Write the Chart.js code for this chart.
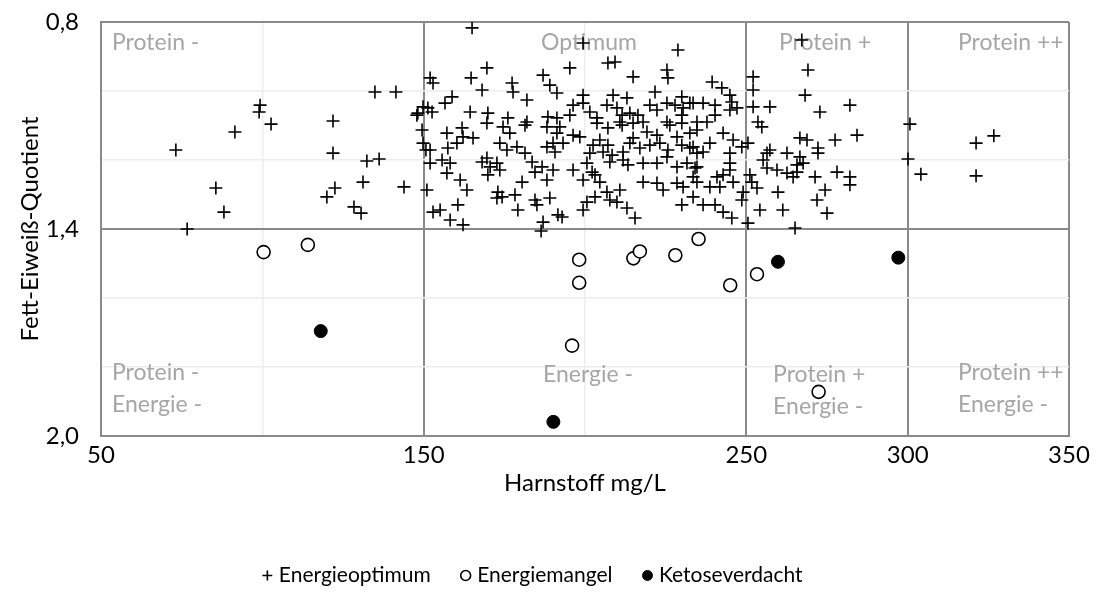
<!DOCTYPE html>
<html>
<head>
<meta charset="UTF-8">
<title>Harnstoff / Fett-Eiweiss-Quotient</title>
<style>
    html, body { margin: 0; padding: 0; background: #ffffff; }
</style>
<script src="https://cdn.jsdelivr.net/npm/chart.js@4.4.0/dist/chart.umd.min.js"></script>
<script>
// Harnstoff (mg/L), Fett-Eiweiss-Quotient
var optimum = [
    [134.9,1.003],[141.4,1.003],[99.3,1.041],[99.0,1.061],[102.7,1.096],[91.5,1.119],[73.2,1.171],
    [121.9,1.087],[121.9,1.180],[132.4,1.203],[136.2,1.197],[85.6,1.281],[88.1,1.351],[76.7,1.400],
    [122.5,1.281],[120.0,1.307],[131.2,1.264],[128.4,1.336],[130.6,1.354],[143.9,1.278],
    [148.2,1.064],[149.8,1.046],[149.5,1.113],[149.8,1.151],[150.7,1.171],[151.0,1.287],
    [165.0,0.817],[169.6,0.933],[164.7,0.962],[168.1,0.997],[152.0,0.962],[152.9,0.977],[158.8,1.017],
    [156.6,1.035],[151.3,1.049],[152.6,1.061],[147.9,1.070],[177.4,0.977],[177.7,1.003],[182.0,1.026],
    [187.0,0.954],[189.1,0.983],[191.3,1.006],[164.4,1.061],[169.9,1.064],[176.1,1.078],[182.0,1.090],
    [188.5,1.075],[157.2,1.122],[161.9,1.107],[162.2,1.133],[165.3,1.136],[169.6,1.093],[174.6,1.104],
    [176.7,1.122],[181.4,1.099],[188.2,1.104],[191.3,1.122],[152.0,1.171],[157.5,1.165],[160.3,1.151],
    [173.6,1.151],[175.8,1.171],[178.9,1.162],[181.4,1.180],[188.2,1.162],[190.7,1.177],[152.0,1.209],
    [155.7,1.200],[158.2,1.209],[157.2,1.238],[168.1,1.206],[169.6,1.194],[170.6,1.220],[172.7,1.209],
    [173.6,1.229],[169.9,1.243],[183.6,1.206],[184.5,1.235],[186.7,1.220],[188.2,1.258],[190.1,1.229],
    [161.3,1.258],[163.4,1.287],[180.5,1.264],[173.0,1.293],[172.7,1.310],[174.3,1.307],[178.3,1.301],
    [160.6,1.330],[155.1,1.345],[152.9,1.351],[158.2,1.374],[162.2,1.388],[179.2,1.345],[185.1,1.330],
    [184.5,1.316],[189.1,1.310],[187.0,1.380],[186.4,1.406],[191.6,1.359],
    [199.4,0.861],[228.8,0.881],[195.3,0.933],[207.1,0.919],[209.3,0.916],[214.9,0.959],[225.4,0.939],
    [225.7,0.962],[221.7,1.003],[208.7,1.012],[213.0,1.020],[199.4,1.012],[230.0,1.017],[232.5,1.035],
    [196.3,1.041],[199.4,1.035],[201.5,1.061],[203.7,1.078],[206.8,1.041],[209.9,1.049],[211.5,1.070],
    [213.9,1.064],[216.4,1.070],[220.1,1.041],[222.3,1.055],[225.4,1.035],[227.9,1.041],[230.4,1.049],
    [230.0,1.070],[234.7,1.090],[195.3,1.070],[191.3,1.078],[218.0,1.090],[210.8,1.090],[225.4,1.090],
    [192.2,1.104],[196.3,1.128],[193.2,1.151],[198.4,1.133],[203.7,1.093],[207.1,1.107],[211.5,1.099],
    [214.9,1.093],[219.2,1.119],[222.3,1.128],[226.3,1.099],[230.0,1.093],[232.5,1.122],[228.5,1.133],
    [204.6,1.142],[207.1,1.157],[205.6,1.177],[208.4,1.186],[211.8,1.177],[213.9,1.151],[214.9,1.136],
    [217.0,1.165],[220.1,1.157],[223.2,1.151],[225.7,1.171],[230.0,1.157],[232.5,1.165],[234.7,1.180],
    [202.5,1.157],[201.5,1.180],[190.1,1.151],[207.7,1.206],[211.8,1.200],[213.3,1.214],[218.0,1.209],
    [222.3,1.209],[225.4,1.191],[228.5,1.220],[231.6,1.209],[234.7,1.220],[196.3,1.229],[200.6,1.209],
    [202.2,1.235],[199.4,1.258],[204.6,1.264],[203.1,1.243],[218.0,1.264],[222.3,1.267],[224.2,1.287],
    [228.5,1.267],[230.4,1.278],[233.5,1.249],[234.7,1.264],[206.8,1.293],[210.8,1.287],[207.7,1.316],
    [209.9,1.322],[203.1,1.307],[200.6,1.322],[199.4,1.345],[192.9,1.365],[213.0,1.339],[215.5,1.368],
    [230.0,1.330],[233.5,1.307],
    [267.2,0.852],[269.1,0.939],[268.2,1.012],[272.8,1.061],[282.1,1.041],[252.1,0.959],[252.1,0.997],
    [252.1,1.046],[257.3,1.046],[253.6,1.090],[239.4,0.974],[242.4,0.991],[244.9,1.012],[245.5,1.032],
    [233.5,1.035],[236.6,1.035],[240.3,1.041],[244.9,1.055],[247.1,1.049],[240.3,1.070],[237.8,1.090],
    [254.8,1.104],[234.7,1.113],[242.8,1.122],[238.7,1.151],[245.9,1.142],[248.6,1.162],[250.5,1.151],
    [244.9,1.180],[236.6,1.177],[233.5,1.162],[266.6,1.136],[268.8,1.142],[277.5,1.142],[284.3,1.128],
    [272.2,1.165],[272.2,1.180],[257.3,1.171],[256.4,1.180],[255.2,1.200],[262.6,1.180],[266.6,1.191],
    [267.6,1.209],[265.7,1.214],[256.4,1.223],[259.5,1.229],[262.6,1.238],[265.7,1.235],[264.5,1.249],
    [271.3,1.249],[278.1,1.235],[282.1,1.249],[282.1,1.272],[274.4,1.287],[271.9,1.316],[275.0,1.354],
    [244.9,1.209],[244.9,1.229],[242.8,1.243],[240.9,1.249],[245.9,1.264],[251.1,1.243],[251.7,1.264],
    [253.3,1.281],[249.0,1.293],[248.6,1.316],[259.8,1.293],[254.2,1.345],[261.3,1.345],[242.8,1.351],
    [245.5,1.368],[236.6,1.330],[240.3,1.330],[234.1,1.223],[238.7,1.278],[241.8,1.278],[250.5,1.383],
    [265.1,1.397],
    [300.7,1.096],[300.1,1.197],[304.1,1.241],[321.2,1.151],[326.7,1.130],[321.2,1.246]
];

var mangel = [
    [100.4,1.467],[114.1,1.446],[198.2,1.489],[198.2,1.556],[196.0,1.738],[215.0,1.485],
    [217.0,1.465],[228.0,1.476],[235.2,1.429],[245.0,1.563],[253.3,1.531],[272.4,1.872]
];

var ketose = [
    [118.1,1.696],[190.2,1.959],[259.8,1.495],[297.1,1.483]
];

var seriesNames = ['Energieoptimum', 'Energiemangel', 'Ketoseverdacht'];

var xLabelTicks = [50, 150, 250, 300, 350];
var xStrongLines = [150, 250, 300];
var yLabelTicks = [0.8, 1.4, 2.0];
var yStrongLines = [1.4];

// Beschriftung der Felder (Datenkoordinaten, linke Kante)
var fieldLabels = [
    { text: ['Protein -'], x: 53.4, y: 0.861 },
    { text: ['Optimum'], x: 186.4, y: 0.861 },
    { text: ['Protein +'], x: 260.1, y: 0.861 },
    { text: ['Protein ++'], x: 315.6, y: 0.861 },
    { text: ['Protein -', 'Energie -'], x: 53.4, y: 1.817 },
    { text: ['Energie -'], x: 187.0, y: 1.823 },
    { text: ['Protein +', 'Energie -'], x: 258.3, y: 1.823 },
    { text: ['Protein ++', 'Energie -'], x: 315.6, y: 1.817 }
];

function toXY(list) {
    return list.map(function (p) { return { x: p[0], y: p[1] }; });
}

function fmt(v) {
    return v.toFixed(1).replace('.', ',');
}

var fieldTextPlugin = {
    id: 'fieldText',
    beforeDatasetsDraw: function (chart) {
        var ctx = chart.ctx;
        var xs = chart.scales.x, ys = chart.scales.y;
        ctx.save();
        ctx.fillStyle = '#a6a6a6';
        ctx.font = '23px Lato';
        ctx.textAlign = 'left';
        ctx.textBaseline = 'middle';
        fieldLabels.forEach(function (l) {
            var px = xs.getPixelForValue(l.x);
            var py = ys.getPixelForValue(l.y);
            l.text.forEach(function (t, i) {
                ctx.fillText(t, px, py + i * 32);
            });
        });
        ctx.restore();
    }
};

window.onload = function () {
    var ctx = document.getElementById('chart').getContext('2d');
    new Chart(ctx, {
        type: 'scatter',
        data: {
            datasets: [{
                label: seriesNames[0],
                data: toXY(optimum),
                pointStyle: 'cross',
                pointRadius: 6.5,
                borderColor: '#000000',
                backgroundColor: '#000000',
                borderWidth: 1.6
            }, {
                label: seriesNames[1],
                data: toXY(mangel),
                pointStyle: 'circle',
                pointRadius: 6.5,
                borderColor: '#000000',
                backgroundColor: '#ffffff',
                borderWidth: 1.6
            }, {
                label: seriesNames[2],
                data: toXY(ketose),
                pointStyle: 'circle',
                pointRadius: 6.5,
                borderColor: '#000000',
                backgroundColor: '#000000',
                borderWidth: 1
            }]
        },
        options: {
            responsive: false,
            animation: false,
            events: [],
            layout: { padding: { top: 22, right: 27, left: 0, bottom: 0 } },
            scales: {
                x: {
                    type: 'linear',
                    min: 50,
                    max: 350,
                    afterFit: function (s) {
                        s.height = 95;
                        s.paddingLeft = 0;
                        s.paddingRight = 0;
                    },
                    ticks: {
                        stepSize: 50,
                        padding: 5,
                        color: '#000000',
                        font: { family: 'Lato', size: 24 },
                        callback: function (v) {
                            return xLabelTicks.indexOf(v) >= 0 ? String(v) : '';
                        }
                    },
                    grid: {
                        drawTicks: false,
                        color: function (c) {
                            var v = c.tick.value;
                            if (xStrongLines.indexOf(v) >= 0 || v === 50 || v === 350) return '#8a8a8a';
                            return '#ededed';
                        },
                        lineWidth: function (c) {
                            var v = c.tick.value;
                            if (xStrongLines.indexOf(v) >= 0 || v === 50 || v === 350) return 2;
                            return 1.5;
                        }
                    },
                    border: { display: true, color: '#8a8a8a', width: 2 },
                    title: {
                        display: true,
                        text: 'Harnstoff mg/L',
                        color: '#000000',
                        font: { family: 'Lato', size: 24 },
                        padding: { top: 4, bottom: 33 }
                    }
                },
                y: {
                    type: 'linear',
                    reverse: true,
                    min: 0.8,
                    max: 2.0,
                    afterFit: function (s) {
                        s.width = 101;
                        s.paddingTop = 0;
                        s.paddingBottom = 0;
                    },
                    ticks: {
                        stepSize: 0.2,
                        padding: 22,
                        color: '#000000',
                        font: { family: 'Lato', size: 24 },
                        callback: function (v) {
                            var r = Math.round(v * 10) / 10;
                            return yLabelTicks.indexOf(r) >= 0 ? fmt(r) : '';
                        }
                    },
                    grid: {
                        drawTicks: false,
                        color: function (c) {
                            var r = Math.round(c.tick.value * 10) / 10;
                            if (yStrongLines.indexOf(r) >= 0 || r === 0.8 || r === 2.0) return '#8a8a8a';
                            return '#ededed';
                        },
                        lineWidth: function (c) {
                            var r = Math.round(c.tick.value * 10) / 10;
                            if (yStrongLines.indexOf(r) >= 0 || r === 0.8 || r === 2.0) return 2;
                            return 1.5;
                        }
                    },
                    border: { display: true, color: '#8a8a8a', width: 2 },
                    title: {
                        display: true,
                        text: 'Fett-Eiweiß-Quotient',
                        color: '#000000',
                        font: { family: 'Lato', size: 24 },
                        padding: { top: 16, bottom: 0 }
                    }
                }
            },
            plugins: {
                tooltip: { enabled: false },
                legend: {
                    position: 'bottom',
                    labels: {
                        usePointStyle: true,
                        boxWidth: 2,
                        boxHeight: 7,
                        padding: 34,
                        color: '#000000',
                        font: { family: 'Lato', size: 21 }
                    }
                }
            }
        },
        plugins: [fieldTextPlugin]
    });
};
</script>
</head>
<body>
<canvas id="chart" width="1096" height="596"></canvas>
</body>
</html>
